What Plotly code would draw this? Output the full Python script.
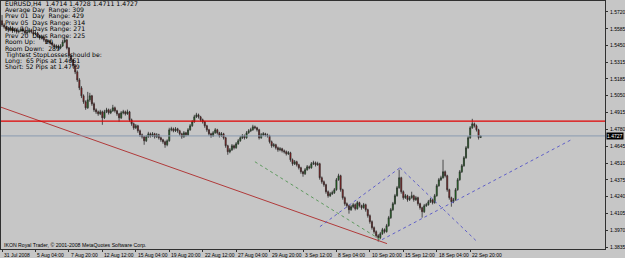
import plotly.graph_objects as go

# ---------------- data (EURUSD H4) ----------------
opens = [
 1.5650, 1.5616, 1.5600, 1.5584, 1.5576, 1.5592, 1.5568, 1.5576, 1.5560, 1.5568,
 1.5584, 1.5568, 1.5552, 1.5560, 1.5576, 1.5560, 1.5544, 1.5552, 1.5528, 1.5512,
 1.5520, 1.5496, 1.5480, 1.5488, 1.5472, 1.5456, 1.5440, 1.5448, 1.5432, 1.5448,
 1.5480, 1.5496, 1.5432, 1.5368, 1.5336, 1.5288, 1.5240, 1.5176, 1.5112, 1.5048,
 1.5000, 1.4952, 1.5016, 1.5048, 1.4984, 1.4936, 1.4920, 1.4904, 1.4920, 1.4872,
 1.4920, 1.4936, 1.4912, 1.4928, 1.4952, 1.4928, 1.4904, 1.4872, 1.4912, 1.4920,
 1.4904, 1.4920, 1.4856, 1.4824, 1.4792, 1.4808, 1.4768, 1.4736, 1.4720, 1.4688,
 1.4720, 1.4744, 1.4728, 1.4744, 1.4720, 1.4736, 1.4712, 1.4696, 1.4680, 1.4656,
 1.4688, 1.4776, 1.4784, 1.4768, 1.4784, 1.4768, 1.4744, 1.4720, 1.4752, 1.4736,
 1.4776, 1.4808, 1.4840, 1.4880, 1.4896, 1.4880, 1.4856, 1.4840, 1.4808, 1.4776,
 1.4744, 1.4728, 1.4752, 1.4776, 1.4752, 1.4728, 1.4744, 1.4712, 1.4648, 1.4600,
 1.4616, 1.4648, 1.4632, 1.4664, 1.4688, 1.4712, 1.4728, 1.4712, 1.4752, 1.4768,
 1.4776, 1.4800, 1.4792, 1.4776, 1.4712, 1.4736, 1.4744, 1.4736, 1.4728, 1.4680,
 1.4648, 1.4656, 1.4632, 1.4616, 1.4624, 1.4608, 1.4600, 1.4584, 1.4592, 1.4536,
 1.4504, 1.4520, 1.4496, 1.4472, 1.4440, 1.4424, 1.4456, 1.4480, 1.4472, 1.4504,
 1.4512, 1.4496, 1.4504, 1.4392, 1.4360, 1.4336, 1.4280, 1.4248, 1.4264, 1.4272,
 1.4296, 1.4376, 1.4408, 1.4296, 1.4232, 1.4184, 1.4168, 1.4136, 1.4160, 1.4176,
 1.4144, 1.4192, 1.4168, 1.4152, 1.4176, 1.4136, 1.4088, 1.4040, 1.3992, 1.3960,
 1.3928, 1.3912, 1.3944, 1.3976, 1.3960, 1.4008, 1.4072, 1.4136, 1.4184, 1.4248,
 1.4312, 1.4392, 1.4280, 1.4232, 1.4248, 1.4216, 1.4232, 1.4248, 1.4216, 1.4232,
 1.4184, 1.4152, 1.4120, 1.4168, 1.4176, 1.4200, 1.4216, 1.4192, 1.4248, 1.4328,
 1.4376, 1.4392, 1.4440, 1.4408, 1.4296, 1.4232, 1.4200, 1.4216, 1.4296, 1.4376,
 1.4440, 1.4488, 1.4552, 1.4632, 1.4712, 1.4792, 1.4824, 1.4808, 1.4776, 1.4714,
]
highs = [
 1.5696, 1.5630, 1.5612, 1.5598, 1.5608, 1.5604, 1.5590, 1.5588, 1.5580, 1.5602,
 1.5594, 1.5578, 1.5574, 1.5592, 1.5586, 1.5568, 1.5566, 1.5560, 1.5536, 1.5534,
 1.5528, 1.5506, 1.5500, 1.5496, 1.5480, 1.5466, 1.5460, 1.5458, 1.5462, 1.5496,
 1.5512, 1.5504, 1.5440, 1.5380, 1.5346, 1.5300, 1.5252, 1.5190, 1.5126, 1.5060,
 1.5012, 1.5080, 1.5072, 1.5056, 1.4996, 1.4948, 1.4930, 1.4936, 1.4930, 1.4936,
 1.4952, 1.4946, 1.4944, 1.4976, 1.4962, 1.4936, 1.4912, 1.4926, 1.4936, 1.4930,
 1.4938, 1.4928, 1.4866, 1.4834, 1.4822, 1.4816, 1.4778, 1.4746, 1.4728, 1.4734,
 1.4760, 1.4754, 1.4758, 1.4752, 1.4750, 1.4744, 1.4722, 1.4704, 1.4690, 1.4700,
 1.4792, 1.4800, 1.4794, 1.4798, 1.4792, 1.4776, 1.4752, 1.4766, 1.4760, 1.4790,
 1.4822, 1.4854, 1.4896, 1.4912, 1.4906, 1.4888, 1.4866, 1.4848, 1.4816, 1.4784,
 1.4752, 1.4766, 1.4790, 1.4784, 1.4760, 1.4758, 1.4752, 1.4720, 1.4656, 1.4630,
 1.4662, 1.4658, 1.4678, 1.4702, 1.4726, 1.4742, 1.4738, 1.4766, 1.4782, 1.4792,
 1.4816, 1.4810, 1.4800, 1.4784, 1.4750, 1.4758, 1.4752, 1.4746, 1.4736, 1.4690,
 1.4670, 1.4664, 1.4642, 1.4638, 1.4632, 1.4618, 1.4610, 1.4606, 1.4600, 1.4546,
 1.4534, 1.4528, 1.4504, 1.4480, 1.4448, 1.4470, 1.4494, 1.4490, 1.4518, 1.4528,
 1.4522, 1.4520, 1.4512, 1.4402, 1.4370, 1.4344, 1.4290, 1.4278, 1.4288, 1.4310,
 1.4390, 1.4424, 1.4416, 1.4304, 1.4242, 1.4194, 1.4176, 1.4174, 1.4190, 1.4186,
 1.4206, 1.4200, 1.4176, 1.4190, 1.4184, 1.4144, 1.4098, 1.4050, 1.4002, 1.3970,
 1.3940, 1.3958, 1.3990, 1.3986, 1.4022, 1.4086, 1.4150, 1.4198, 1.4262, 1.4326,
 1.4456, 1.4400, 1.4290, 1.4262, 1.4256, 1.4246, 1.4280, 1.4256, 1.4246, 1.4240,
 1.4192, 1.4160, 1.4182, 1.4190, 1.4214, 1.4230, 1.4224, 1.4262, 1.4342, 1.4390,
 1.4408, 1.4536, 1.4450, 1.4416, 1.4304, 1.4240, 1.4230, 1.4310, 1.4390, 1.4454,
 1.4502, 1.4566, 1.4646, 1.4726, 1.4806, 1.4864, 1.4834, 1.4818, 1.4784, 1.4728,
]
lows = [
 1.5600, 1.5586, 1.5570, 1.5558, 1.5566, 1.5552, 1.5556, 1.5546, 1.5548, 1.5560,
 1.5556, 1.5538, 1.5540, 1.5550, 1.5548, 1.5530, 1.5534, 1.5516, 1.5498, 1.5502,
 1.5482, 1.5466, 1.5470, 1.5458, 1.5442, 1.5426, 1.5428, 1.5418, 1.5422, 1.5440,
 1.5470, 1.5420, 1.5352, 1.5320, 1.5272, 1.5222, 1.5160, 1.5094, 1.5030, 1.4984,
 1.4936, 1.4944, 1.5000, 1.4968, 1.4920, 1.4904, 1.4888, 1.4894, 1.4816, 1.4862,
 1.4910, 1.4898, 1.4902, 1.4920, 1.4914, 1.4888, 1.4840, 1.4862, 1.4900, 1.4890,
 1.4896, 1.4840, 1.4808, 1.4776, 1.4782, 1.4752, 1.4720, 1.4706, 1.4656, 1.4678,
 1.4712, 1.4714, 1.4718, 1.4706, 1.4710, 1.4698, 1.4680, 1.4664, 1.4632, 1.4644,
 1.4680, 1.4764, 1.4756, 1.4758, 1.4752, 1.4730, 1.4704, 1.4712, 1.4722, 1.4728,
 1.4768, 1.4800, 1.4832, 1.4870, 1.4866, 1.4842, 1.4826, 1.4792, 1.4760, 1.4730,
 1.4712, 1.4720, 1.4744, 1.4738, 1.4714, 1.4720, 1.4698, 1.4632, 1.4576, 1.4588,
 1.4606, 1.4618, 1.4624, 1.4656, 1.4680, 1.4702, 1.4698, 1.4704, 1.4744, 1.4758,
 1.4768, 1.4780, 1.4762, 1.4698, 1.4704, 1.4726, 1.4722, 1.4714, 1.4666, 1.4632,
 1.4636, 1.4618, 1.4600, 1.4604, 1.4594, 1.4586, 1.4570, 1.4574, 1.4520, 1.4488,
 1.4494, 1.4482, 1.4458, 1.4424, 1.4400, 1.4414, 1.4448, 1.4460, 1.4464, 1.4494,
 1.4482, 1.4488, 1.4376, 1.4344, 1.4320, 1.4264, 1.4232, 1.4238, 1.4254, 1.4262,
 1.4288, 1.4368, 1.4280, 1.4216, 1.4168, 1.4152, 1.4104, 1.4126, 1.4148, 1.4130,
 1.4136, 1.4154, 1.4136, 1.4144, 1.4120, 1.4072, 1.4024, 1.3976, 1.3944, 1.3912,
 1.3880, 1.3900, 1.3934, 1.3946, 1.3952, 1.4000, 1.4062, 1.4126, 1.4176, 1.4240,
 1.4304, 1.4264, 1.4216, 1.4222, 1.4200, 1.4206, 1.4224, 1.4200, 1.4206, 1.4168,
 1.4136, 1.4072, 1.4110, 1.4158, 1.4168, 1.4190, 1.4178, 1.4184, 1.4240, 1.4320,
 1.4366, 1.4384, 1.4394, 1.4280, 1.4216, 1.4160, 1.4188, 1.4208, 1.4288, 1.4368,
 1.4430, 1.4480, 1.4544, 1.4624, 1.4704, 1.4784, 1.4794, 1.4762, 1.4698, 1.4711,
]
closes = [
 1.5616, 1.5600, 1.5584, 1.5576, 1.5592, 1.5568, 1.5576, 1.5560, 1.5568, 1.5584,
 1.5568, 1.5552, 1.5560, 1.5576, 1.5560, 1.5544, 1.5552, 1.5528, 1.5512, 1.5520,
 1.5496, 1.5480, 1.5488, 1.5472, 1.5456, 1.5440, 1.5448, 1.5432, 1.5448, 1.5480,
 1.5496, 1.5432, 1.5368, 1.5336, 1.5288, 1.5240, 1.5176, 1.5112, 1.5048, 1.5000,
 1.4952, 1.5016, 1.5048, 1.4984, 1.4936, 1.4920, 1.4904, 1.4920, 1.4872, 1.4920,
 1.4936, 1.4912, 1.4928, 1.4952, 1.4928, 1.4904, 1.4872, 1.4912, 1.4920, 1.4904,
 1.4920, 1.4856, 1.4824, 1.4792, 1.4808, 1.4768, 1.4736, 1.4720, 1.4688, 1.4720,
 1.4744, 1.4728, 1.4744, 1.4720, 1.4736, 1.4712, 1.4696, 1.4680, 1.4656, 1.4688,
 1.4776, 1.4784, 1.4768, 1.4784, 1.4768, 1.4744, 1.4720, 1.4752, 1.4736, 1.4776,
 1.4808, 1.4840, 1.4880, 1.4896, 1.4880, 1.4856, 1.4840, 1.4808, 1.4776, 1.4744,
 1.4728, 1.4752, 1.4776, 1.4752, 1.4728, 1.4744, 1.4712, 1.4648, 1.4600, 1.4616,
 1.4648, 1.4632, 1.4664, 1.4688, 1.4712, 1.4728, 1.4712, 1.4752, 1.4768, 1.4776,
 1.4800, 1.4792, 1.4776, 1.4712, 1.4736, 1.4744, 1.4736, 1.4728, 1.4680, 1.4648,
 1.4656, 1.4632, 1.4616, 1.4624, 1.4608, 1.4600, 1.4584, 1.4592, 1.4536, 1.4504,
 1.4520, 1.4496, 1.4472, 1.4440, 1.4424, 1.4456, 1.4480, 1.4472, 1.4504, 1.4512,
 1.4496, 1.4504, 1.4392, 1.4360, 1.4336, 1.4280, 1.4248, 1.4264, 1.4272, 1.4296,
 1.4376, 1.4408, 1.4296, 1.4232, 1.4184, 1.4168, 1.4136, 1.4160, 1.4176, 1.4144,
 1.4192, 1.4168, 1.4152, 1.4176, 1.4136, 1.4088, 1.4040, 1.3992, 1.3960, 1.3928,
 1.3912, 1.3944, 1.3976, 1.3960, 1.4008, 1.4072, 1.4136, 1.4184, 1.4248, 1.4312,
 1.4392, 1.4280, 1.4232, 1.4248, 1.4216, 1.4232, 1.4248, 1.4216, 1.4232, 1.4184,
 1.4152, 1.4120, 1.4168, 1.4176, 1.4200, 1.4216, 1.4192, 1.4248, 1.4328, 1.4376,
 1.4392, 1.4440, 1.4408, 1.4296, 1.4232, 1.4200, 1.4216, 1.4296, 1.4376, 1.4440,
 1.4488, 1.4552, 1.4632, 1.4712, 1.4792, 1.4824, 1.4808, 1.4776, 1.4714, 1.4727,
]
bar_index = list(range(len(closes)))

# x-axis labels (every 16 H4 bars)
xtick_bars = [0, 16, 32, 48, 64, 80, 96, 112, 128, 144, 160, 176, 192, 208, 224]
xtick_labels = ["31 Jul 2008", "5 Aug 04:00", "7 Aug 20:00", "12 Aug 12:00", "15 Aug 04:00",
                "19 Aug 20:00", "22 Aug 12:00", "27 Aug 04:00", "29 Aug 20:00", "3 Sep 12:00",
                "8 Sep 04:00", "10 Sep 20:00", "15 Sep 12:00", "18 Sep 04:00", "22 Sep 20:00"]
# price-axis labels
ytick_values = [1.5720, 1.5585, 1.5450, 1.5315, 1.5185, 1.5050, 1.4915, 1.4780,
                1.4645, 1.4510, 1.4375, 1.4240, 1.4105, 1.3970, 1.3835]
ytick_labels = ["1.5720", "1.5585", "1.5450", "1.5315", "1.5185", "1.5050", "1.4915", "1.4780",
                "1.4645", "1.4510", "1.4375", "1.4240", "1.4105", "1.3970", "1.3835"]

# levels
bid_price = 1.4727
resistance_level = 1.4845

# drawn trend lines (bar index, price)
red_trend_bars = [-0.5, 184.2]
red_trend_prices = [1.4957, 1.3864]
green_trend_bars = [121.0, 181.8]
green_trend_prices = [1.4520, 1.3888]
blue1_bars = [152.1, 190.4]
blue1_prices = [1.4000, 1.4472]
blue2_bars = [190.4, 227.3]
blue2_prices = [1.4472, 1.3880]
blue3_bars = [181.8, 273.2]
blue3_prices = [1.3896, 1.4704]

info_lines = [
    "EURUSD,H4  1.4714 1.4728 1.4711 1.4727",
    "Average Day  Range: 309",
    "Prev 01  Day  Range: 429",
    "Prev 05  Days Range: 314",
    "Prev 10  Days Range: 271",
    "Prev 20  Days Range: 225",
    "Room Up:     20",
    "Room Down:  289",
    "Tightest StopLosses should be:",
    "Long:  65 Pips at 1.4661",
    "Short: 52 Pips at 1.4779",
]
copyright_text = "IKON Royal Trader, \u00a9 2001-2008 MetaQuotes Software Corp."

# ---------------- figure ----------------
BG = "#c6c6c6"
FONT = "Liberation Sans"
INFO_FONT = "DejaVu Sans"
W, H = 625, 258
ML, MR, MT, MB = 1, 20, 1, 9
plot_h = H - MT - MB
plot_w = W - ML - MR

fig = go.Figure()
fig.add_trace(go.Candlestick(
    x=bar_index, open=opens, high=highs, low=lows, close=closes,
    increasing=dict(line=dict(color="#2c2c2c", width=0.8), fillcolor="#00a000"),
    decreasing=dict(line=dict(color="#2c2c2c", width=0.8), fillcolor="#d00000"),
    whiskerwidth=0, hoverinfo="skip", showlegend=False,
))

for bx, py, col, dash in [
    (red_trend_bars, red_trend_prices, "#b03a3a", "solid"),
    (green_trend_bars, green_trend_prices, "#5f9a5f", "dot"),
    (blue1_bars, blue1_prices, "#6060c8", "dot"),
    (blue2_bars, blue2_prices, "#6060c8", "dot"),
    (blue3_bars, blue3_prices, "#6060c8", "dot"),
]:
    fig.add_trace(go.Scatter(x=bx, y=py, mode="lines", line=dict(color=col, width=1, dash=dash),
                             hoverinfo="skip", showlegend=False))

fig.add_shape(type="line", xref="paper", x0=0, x1=1, yref="y", y0=bid_price, y1=bid_price,
              line=dict(color="#8a9ab0", width=1))
fig.add_shape(type="line", xref="paper", x0=0, x1=1, yref="y", y0=resistance_level, y1=resistance_level,
              line=dict(color="#e00000", width=1.2))

annotations = []
for k, txt in enumerate(info_lines):
    ypix = 3.5 + 6.4 * k
    annotations.append(dict(text=txt, xref="paper", yref="paper", x=2 / plot_w,
                            y=1 - (ypix - MT) / plot_h, xanchor="left", yanchor="middle",
                            showarrow=False, font=dict(family=INFO_FONT, size=6.2, color="#000000")))
annotations.append(dict(text=copyright_text, xref="paper", yref="paper", x=1 / plot_w,
                        y=1 - (245 - MT) / plot_h, xanchor="left", yanchor="middle",
                        showarrow=False, font=dict(family=FONT, size=5.2, color="#000000")))
annotations.append(dict(text=f"{bid_price:.4f}", xref="paper", yref="y", x=1, y=bid_price,
                        xanchor="left", yanchor="middle", xshift=1, showarrow=False,
                        bgcolor="#000000", borderpad=0,
                        font=dict(family=FONT, size=5, color="#ffffff")))
for b, lab in zip(xtick_bars, xtick_labels):
    annotations.append(dict(text=lab, xref="x", yref="paper", x=b, y=0, xanchor="left",
                            yanchor="top", xshift=0, yshift=-1, showarrow=False,
                            font=dict(family=FONT, size=5, color="#000000")))

fig.update_layout(
    width=W, height=H,
    margin=dict(l=ML, r=MR, t=MT, b=MB),
    paper_bgcolor=BG, plot_bgcolor=BG,
    font=dict(family=FONT, size=5, color="#000000"),
    annotations=annotations,
    xaxis=dict(range=[-0.5, 288.5], rangeslider=dict(visible=False), showgrid=False, zeroline=False,
               showline=True, linecolor="#303030", linewidth=1, mirror=True,
               tickvals=xtick_bars, ticks="outside", ticklen=2, tickcolor="#303030",
               showticklabels=False, automargin=False),
    yaxis=dict(range=[1.3821, 1.5808], side="right", showgrid=False, zeroline=False,
               showline=True, linecolor="#303030", linewidth=1, mirror=True,
               tickvals=ytick_values, ticktext=ytick_labels, ticks="outside", ticklen=2,
               ticklabelstandoff=1,
               tickcolor="#303030", tickfont=dict(family=FONT, size=5, color="#000000"),
               automargin=False),
)

fig.write_html("out.html")
